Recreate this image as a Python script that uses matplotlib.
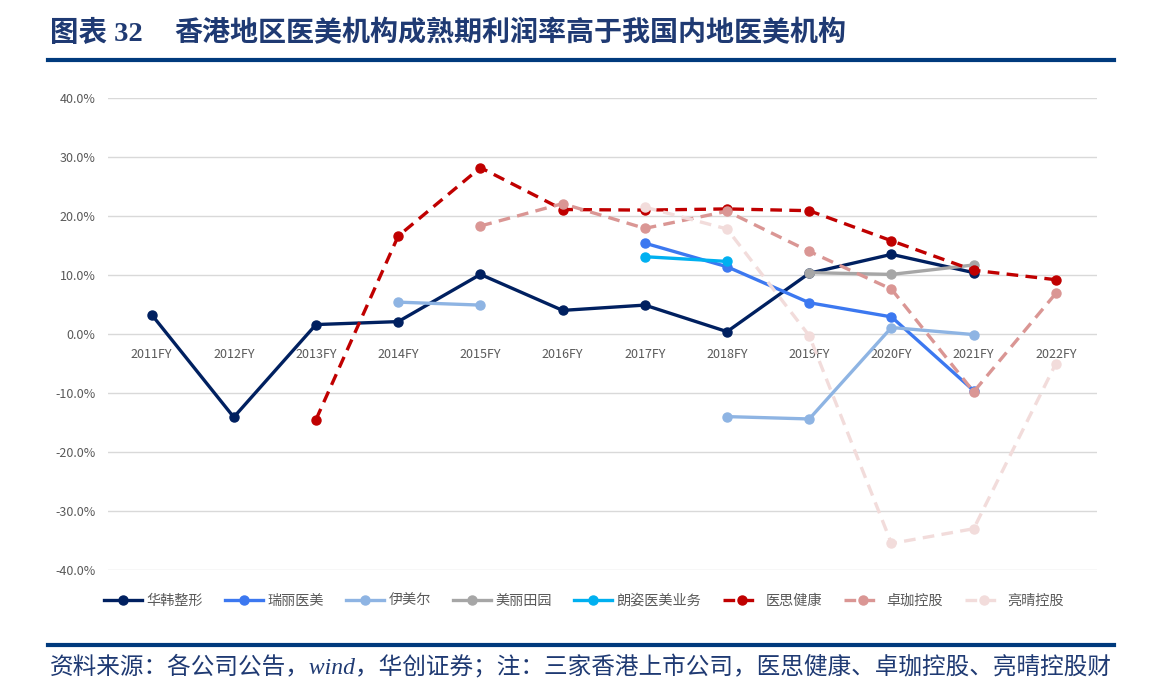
import numpy as np
import matplotlib.pyplot as plt

plt.rcParams['font.family'] = ['Noto Sans CJK SC', 'DejaVu Sans']

nan = np.nan
years = ["2011FY", "2012FY", "2013FY", "2014FY", "2015FY", "2016FY",
         "2017FY", "2018FY", "2019FY", "2020FY", "2021FY", "2022FY"]

huahan = [3.3, -14.1, 1.6, 2.1, 10.1, 4.0, 4.9, 0.4, 10.3, 13.5, 10.4, nan]
ruili = [nan, nan, nan, nan, nan, nan, 15.4, 11.4, 5.3, 2.9, -9.6, nan]
yimeier = [nan, nan, nan, 5.4, 4.9, nan, nan, -14.0, -14.4, 1.1, -0.1, nan]
meilitianyuan = [nan, nan, nan, nan, nan, nan, nan, nan, 10.4, 10.1, 11.7, nan]
langzi = [nan, nan, nan, nan, nan, nan, 13.1, 12.3, nan, nan, nan, nan]
yisi = [nan, nan, -14.5, 16.6, 28.2, 21.1, 21.0, 21.2, 20.9, 15.8, 10.8, 9.2]
zhuojia = [nan, nan, nan, nan, 18.3, 22.1, 17.9, 20.8, 14.0, 7.6, -9.8, 6.9]
liangqing = [nan, nan, nan, nan, nan, nan, 21.5, 17.8, -0.3, -35.5, -33.0, -5.0]

series = [
    ("华韩整形", huahan, "#002060", "-"),
    ("瑞丽医美", ruili, "#3C78F0", "-"),
    ("伊美尔", yimeier, "#8EB4E3", "-"),
    ("美丽田园", meilitianyuan, "#A6A6A6", "-"),
    ("朗姿医美业务", langzi, "#00B0F0", "-"),
    ("医思健康", yisi, "#C00000", "--"),
    ("卓珈控股", zhuojia, "#DA9694", "--"),
    ("亮晴控股", liangqing, "#F2DCDB", "--"),
]

fig = plt.figure(figsize=(11.54, 6.91), dpi=100)
ax = fig.add_axes([108 / 1154, 1 - 570 / 691, 989 / 1154, 472 / 691])

x = np.arange(len(years))
for name, vals, color, ls in series:
    line, = ax.plot(x, vals, color=color, lw=2.4, ls=ls, marker="o",
                    markersize=6.5, label=name, zorder=3)
    if ls == "--":
        line.set_dashes((3.5, 2.2))

ax.set_xlim(-0.53, 11.5)
ax.set_ylim(-40, 40)
ax.set_yticks(np.arange(-40, 41, 10))
ax.set_yticklabels([f"{v:.1f}%" for v in np.arange(-40, 41, 10)],
                   fontsize=9, color="#595959")
ax.grid(axis="y", color="#D9D9D9", lw=1)
ax.set_axisbelow(True)
for s in ax.spines.values():
    s.set_visible(False)
ax.spines["bottom"].set_position(("data", 0))
ax.set_xticks(x)
ax.set_xticklabels(years, fontsize=9, color="#595959")
ax.tick_params(axis="both", length=0)
ax.tick_params(axis="x", pad=10)
ax.tick_params(axis="y", pad=9)

ax.legend(loc="center", bbox_to_anchor=(0.506, (691 - 601) / 691), bbox_transform=fig.transFigure,
          ncol=8, frameon=False, fontsize=10.2, handlelength=2.7, columnspacing=1.55,
          handletextpad=0.3, labelcolor="#595959")

title_color = "#1F3A73"
fig.text(50 / 1154, 1 - 33 / 691, "图表 32", fontsize=20.5, fontweight="bold",
         color=title_color, va="center", family=["Liberation Serif", "Noto Sans CJK SC"])
fig.text(174 / 1154, 1 - 33 / 691, "香港地区医美机构成熟期利润率高于我国内地医美机构",
         fontsize=20.2, fontweight="bold", color=title_color, va="center")

fig.add_artist(plt.Line2D([48 / 1154, 1114 / 1154], [1 - 60 / 691] * 2,
                          color="#003A7D", lw=3))
fig.add_artist(plt.Line2D([48 / 1154, 1114 / 1154], [1 - 645 / 691] * 2,
                          color="#003A7D", lw=3))

fig.text(50 / 1154, 1 - 667 / 691,
         "资料来源：各公司公告，wind，华创证券；注：三家香港上市公司，医思健康、卓珈控股、亮晴控股财",
         fontsize=17.0, color=title_color, va="center", style="italic",
         family=["Liberation Serif", "Noto Sans CJK SC"])

fig.savefig("out.png", dpi=100)
